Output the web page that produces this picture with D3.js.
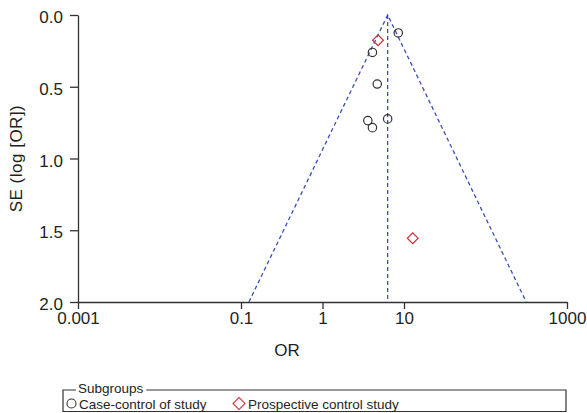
<!DOCTYPE html>
<html lang="en">
<head>
  <meta charset="UTF-8">
  <title>Funnel plot - SE(log OR) vs OR</title>
  <script src="https://d3js.org/d3.v7.min.js"></script>
  <style>
    body {
      margin: 0;
      background: #fff;
      font-family: "Liberation Sans", Arial, Helvetica, sans-serif;
    }
    .axis path, .axis line {
      stroke: #333;
      stroke-width: 1.3px;
    }
    .axis text {
      font-size: 17px;
      fill: #231f20;
    }
    .title {
      font-size: 17px;
      fill: #231f20;
    }
    .funnel {
      fill: none;
      stroke: #3d4fb5;
      stroke-width: 1.3px;
      stroke-dasharray: 4 3;
    }
    .legend text {
      font-size: 13.5px;
      fill: #231f20;
    }
  </style>
</head>
<body>
  <svg id="chart" width="587" height="413"></svg>

  <script>
    // values
    const caseControlOR = [8.5, 4.1, 4.7, 3.6, 4.1, 6.3];
    const caseControlSE = [0.125, 0.261, 0.481, 0.736, 0.785, 0.724];
    const prospectiveOR = [4.8, 12.8];
    const prospectiveSE = [0.176, 1.556];
    const pooledOR = 6.3;
    const funnelBottomOR = [0.125, 316];   // 95% limits at SE = 2.0
    const xTicks = [0.001, 0.1, 1, 10, 1000];
    const yTicks = [0, 0.5, 1.0, 1.5, 2.0];
    const groupNames = ["Case-control of study", "Prospective control study"];

    const svg = d3.select("#chart"),
          margin = {top: 15, right: 20, bottom: 111, left: 78},
          width = +svg.attr("width") - margin.left - margin.right,
          height = +svg.attr("height") - margin.top - margin.bottom;

    const g = svg.append("g")
      .attr("transform", `translate(${margin.left},${margin.top})`);

    const x = d3.scaleLog().domain([0.001, 1000]).range([0, width]);
    const y = d3.scaleLinear().domain([0, 2]).range([0, height]);

    // axes
    g.append("g")
      .attr("class", "axis")
      .attr("transform", `translate(0,${height})`)
      .call(d3.axisBottom(x).tickValues(xTicks).tickFormat(d => String(d))
        .tickSize(7).tickPadding(3).tickSizeOuter(0));

    g.append("g")
      .attr("class", "axis")
      .call(d3.axisLeft(y).tickValues(yTicks).tickFormat(d3.format(".1f"))
        .tickSize(8).tickPadding(7).tickSizeOuter(0))
      .selectAll("text").attr("dy", "0.45em");

    // axis titles
    svg.append("text")
      .attr("class", "title")
      .attr("x", 287)
      .attr("y", 356)
      .attr("text-anchor", "middle")
      .text("OR");

    svg.append("text")
      .attr("class", "title")
      .attr("transform", `translate(22,${margin.top + height / 2}) rotate(-90)`)
      .attr("text-anchor", "middle")
      .style("letter-spacing", "0.5px")
      .text("SE (log [OR])");

    // funnel and pooled estimate
    g.append("line")
      .attr("class", "funnel")
      .attr("x1", x(pooledOR)).attr("y1", y(0))
      .attr("x2", x(pooledOR)).attr("y2", y(2));

    g.append("path")
      .attr("class", "funnel")
      .attr("d", d3.line()([
        [x(funnelBottomOR[0]), y(2)],
        [x(pooledOR), y(0)],
        [x(funnelBottomOR[1]), y(2)]
      ]));

    // studies
    const caseControl = caseControlOR.map((or, i) => ({or, se: caseControlSE[i]}));
    const prospective = prospectiveOR.map((or, i) => ({or, se: prospectiveSE[i]}));

    g.selectAll(".cc")
      .data(caseControl)
      .enter().append("circle")
      .attr("class", "cc")
      .attr("cx", d => x(d.or))
      .attr("cy", d => y(d.se))
      .attr("r", 4.2)
      .attr("fill", "none")
      .attr("stroke", "#333")
      .attr("stroke-width", 1.2);

    const diamond = d3.symbol().type(d3.symbolSquare).size(58);

    g.selectAll(".pc")
      .data(prospective)
      .enter().append("path")
      .attr("class", "pc")
      .attr("d", diamond)
      .attr("transform", d => `translate(${x(d.or)},${y(d.se)}) rotate(45)`)
      .attr("fill", "none")
      .attr("stroke", "#c8323c")
      .attr("stroke-width", 1.2);

    // legend
    const legend = svg.append("g").attr("class", "legend");
    const lx0 = 63, lx1 = 566, ly0 = 390, ly1 = 411.5;

    const subTitle = legend.append("text")
      .attr("x", 78)
      .attr("y", 393)
      .text("Subgroups");
    const tw = subTitle.node().getComputedTextLength();

    legend.append("path")
      .attr("d", `M76,${ly0}H${lx0}V${ly1}H${lx1}V${ly0}H${78 + tw + 3}`)
      .attr("fill", "none")
      .attr("stroke", "#333")
      .attr("stroke-width", 1.2);

    legend.append("circle")
      .attr("cx", 71.5).attr("cy", 403.5).attr("r", 4.5)
      .attr("fill", "none").attr("stroke", "#333").attr("stroke-width", 1.1);
    legend.append("text").attr("x", 79).attr("y", 408.5).text(groupNames[0]);

    legend.append("path")
      .attr("d", d3.symbol().type(d3.symbolSquare).size(72))
      .attr("transform", "translate(239,403.5) rotate(45)")
      .attr("fill", "none").attr("stroke", "#c8323c").attr("stroke-width", 1.1);
    legend.append("text").attr("x", 248).attr("y", 408.5).text(groupNames[1]);
  </script>
</body>
</html>
